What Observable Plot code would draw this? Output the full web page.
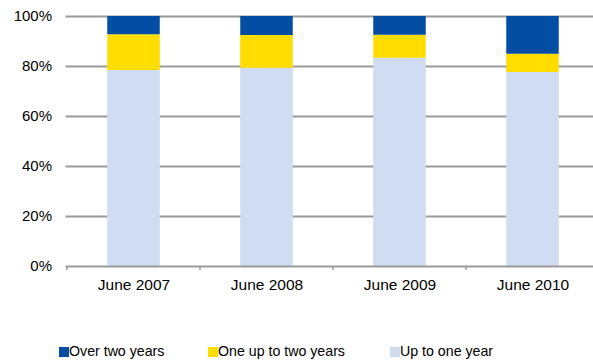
<!DOCTYPE html>
<html>
<head>
<meta charset="utf-8">
<script src="https://cdn.jsdelivr.net/npm/d3@7"></script>
<script src="https://cdn.jsdelivr.net/npm/@observablehq/plot@0.6"></script>
<style>
  html, body { margin: 0; padding: 0; background: #fff; }
  #wrap { position: relative; width: 593px; height: 361px; overflow: hidden; font-family: "Liberation Sans", Arial, sans-serif; }
  #legend { position: absolute; left: 0; top: 310px; width: 593px; height: 51px; }
  .item { position: absolute; top: 32px; height: 18px; font-size: 14.2px; line-height: 18px; color: #000; white-space: nowrap; }
  .sw { display: inline-block; width: 10px; height: 10px; margin-right: 0px; vertical-align: -1px; }
</style>
</head>
<body>
<div id="wrap"><div id="chart"></div><div id="legend"></div></div>
<script>
const periods = ["June 2007", "June 2008", "June 2009", "June 2010"];
const seriesNames = ["Up to one year", "One up to two years", "Over two years"];
const upToOne = [78.4, 79.3, 83.3, 77.6];
const oneToTwo = [14.3, 13.1, 9.2, 7.3];
const overTwo = [7.3, 7.6, 7.5, 15.1];
const yTicks = [0, 20, 40, 60, 80, 100];
const colors = ["#d0dcf2", "#ffdd00", "#034ea2"];
const legendOrder = ["Over two years", "One up to two years", "Up to one year"];

const seriesValues = [upToOne, oneToTwo, overTwo];
const data = [];
seriesNames.forEach((s, i) => periods.forEach((p, j) => data.push({period: p, series: s, value: seriesValues[i][j]})));

const W = 593, H = 310;
const mL = 65.5, mR = -6.5, mT = 16, mB = 44;
const band = (W - mL - mR) / periods.length;
const inset = (band - 53) / 2;
const gridColor = "#9a9a9a";

const chart = Plot.plot({
  width: W,
  height: H,
  marginLeft: mL,
  marginRight: mR,
  marginTop: mT,
  marginBottom: mB,
  style: {fontFamily: "Liberation Sans, Arial, sans-serif", fontSize: "15px", color: "#000", background: "#fff"},
  x: {domain: periods, padding: 0},
  y: {domain: [0, 100]},
  color: {domain: seriesNames, range: colors},
  marks: [
    Plot.ruleY(yTicks.filter(d => d > 0), {stroke: gridColor, strokeWidth: 2}),
    Plot.barY(data, Plot.stackY({
      x: "period", y: "value", fill: "series", z: "series",
      order: seriesNames, insetLeft: inset, insetRight: inset
    })),
    Plot.ruleY([0], {stroke: gridColor, strokeWidth: 2}),
    Plot.axisY({ticks: yTicks, tickFormat: d => d + "%", label: null, tickSize: 0, tickPadding: 14, fontSize: 15}),
    Plot.axisX({label: null, tickSize: 0, tickPadding: 12, fontSize: 15.5}),
    (index, scales, values, dims) => {
      const g = d3.create("svg:g");
      const y0 = scales.y(0);
      const xs = periods.map(p => scales.x(p));
      xs.forEach(x => {
        g.append("line").attr("x1", x).attr("x2", x).attr("y1", y0).attr("y2", y0 + 4)
          .attr("stroke", gridColor).attr("stroke-width", 1.5);
      });
      return g.node();
    }
  ]
});
document.getElementById("chart").appendChild(chart);

const legend = document.getElementById("legend");
const legendX = [59, 208, 390];
legendOrder.forEach((name, i) => {
  const item = document.createElement("div");
  item.className = "item";
  item.style.left = legendX[i] + "px";
  const sw = document.createElement("span");
  sw.className = "sw";
  sw.style.background = colors[seriesNames.indexOf(name)];
  item.appendChild(sw);
  item.appendChild(document.createTextNode(name));
  legend.appendChild(item);
});
</script>
</body>
</html>
